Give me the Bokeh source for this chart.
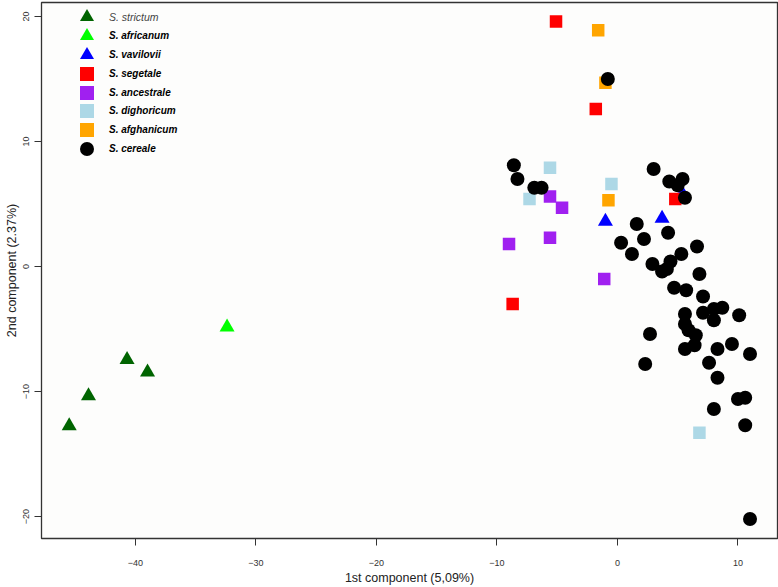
import math
from bokeh.plotting import figure
from bokeh.models import Legend, LegendItem, Range1d, FixedTicker
from bokeh.embed import file_html
from bokeh.resources import INLINE

# ---- data ----
strictum_x = [-45.5, -43.9, -40.7, -39.0]
strictum_y = [-12.75, -10.35, -7.45, -8.45]

africanum_x = [-32.4]
africanum_y = [-4.85]

vavilovii_x = [-1.0, 3.7, 5.4]
vavilovii_y = [3.6, 3.85, 5.8]

segetale_x = [-5.1, -1.8, 4.8, -8.7]
segetale_y = [19.6, 12.6, 5.4, -3.0]

ancestrale_x = [-5.6, -4.6, -9.0, -5.6, -1.1]
ancestrale_y = [5.6, 4.7, 1.8, 2.3, -1.0]

dighoricum_x = [-5.6, -0.5, -7.3, 6.8]
dighoricum_y = [7.9, 6.6, 5.4, -13.3]

afghanicum_x = [-1.6, -1.0, -0.75]
afghanicum_y = [18.9, 14.7, 5.3]

cereale_x = [-0.8, -8.6, -8.3, -6.9, -6.3, 3.0, 4.3, 5.4, 5.0, 5.6,
             1.6, 4.2, 0.3, 2.2, 1.2, 2.9, 4.4, 4.1, 3.7, 5.3,
             6.6, 6.8, 4.7, 5.7, 7.1, 5.6, 7.1, 8.0, 8.7, 10.1,
             8.0, 5.6, 5.9, 6.5, 5.6, 6.4, 9.5, 8.3, 11.0, 2.7,
             2.3, 7.6, 8.3, 10.0, 10.6, 8.0, 10.6, 11.0]
cereale_y = [15.0, 8.1, 7.0, 6.3, 6.3, 7.8, 6.8, 7.0, 6.5, 5.5,
             3.4, 2.7, 1.9, 2.2, 1.0, 0.2, 0.4, -0.2, -0.4, 1.0,
             1.6, -0.6, -1.7, -1.9, -2.4, -3.8, -3.7, -3.4, -3.3, -3.9,
             -4.3, -4.6, -5.1, -5.5, -6.6, -6.3, -6.2, -6.6, -7.0, -5.4,
             -7.8, -7.7, -8.9, -10.6, -10.5, -11.4, -12.7, -20.2]

labels = ["S. strictum", "S. africanum", "S. vavilovii", "S. segetale",
          "S. ancestrale", "S. dighoricum", "S. afghanicum", "S. cereale"]
colors = ["#006400", "#00ff00", "#0000ff", "#ff0000",
          "#a020f0", "#add8e6", "#ffa500", "#000000"]
markers = ["triangle", "triangle", "triangle", "square",
           "square", "square", "square", "circle"]
sizes = [15, 15, 15, 12.5, 12.5, 12.5, 12.5, 14]
xs = [strictum_x, africanum_x, vavilovii_x, segetale_x,
      ancestrale_x, dighoricum_x, afghanicum_x, cereale_x]
ys = [strictum_y, africanum_y, vavilovii_y, segetale_y,
      ancestrale_y, dighoricum_y, afghanicum_y, cereale_y]

x_ticks = [-40, -30, -20, -10, 0, 10]
y_ticks = [-20, -10, 0, 10, 20]

FRAME_H = 536
p = figure(width=778, height=587, output_backend="svg", toolbar_location=None,
           x_range=Range1d(-47.8, 13.28), y_range=Range1d(-21.76, 21.12),
           min_border_left=41, min_border_right=1, min_border_top=2,
           min_border_bottom=49)
p.background_fill_color = "#fdfdfc"
p.border_fill_color = "#ffffff"
p.outline_line_color = "#333333"
p.outline_line_width = 1.3
p.xgrid.visible = False
p.ygrid.visible = False

renderers = []
for lab, col, mk, sz, x, y in zip(labels, colors, markers, sizes, xs, ys):
    r = p.scatter(x, y, marker=mk, size=sz, fill_color=col, line_color=None)
    renderers.append(r)

# one legend entry per Legend so the rows can sit closer than the glyph box
row_pitch = 18.9
first_row = 14.5  # px below the frame top
for i, (lab, r) in enumerate(zip(labels, renderers)):
    center = first_row + i * row_pitch
    bottom = FRAME_H - center - 17.5
    lg = Legend(items=[LegendItem(label=lab, renderers=[r])],
                location=(28, round(bottom)), glyph_width=35, glyph_height=35,
                padding=0, margin=0, label_standoff=5,
                border_line_color=None, background_fill_alpha=0,
                label_text_font="Liberation Sans",
                label_text_font_size="10.5px" if i == 0 else "10px",
                label_text_font_style="italic" if i == 0 else "bold italic",
                label_text_color="#444444" if i == 0 else "#000000")
    p.add_layout(lg)

for ax, ticks in ((p.xaxis[0], x_ticks), (p.yaxis[0], y_ticks)):
    ax.ticker = FixedTicker(ticks=ticks)
    ax.axis_line_color = None
    ax.major_tick_in = 0
    ax.major_tick_out = 7
    ax.major_tick_line_color = "#333333"
    ax.minor_tick_line_color = None
    ax.major_label_text_font = "Liberation Sans"
    ax.major_label_text_font_size = "9px"
    ax.major_label_text_color = "#333333"
    ax.axis_label_text_font = "Liberation Sans"
    ax.axis_label_text_font_size = "12.5px"
    ax.axis_label_text_font_style = "normal"
    ax.axis_label_text_color = "#222222"

p.xaxis[0].axis_label = "1st component (5,09%)"
p.xaxis[0].major_label_standoff = 14
p.xaxis[0].axis_label_standoff = 2
p.yaxis[0].axis_label = "2nd component (2.37%)"
p.yaxis[0].major_label_orientation = "vertical"
p.yaxis[0].major_label_standoff = 6
p.yaxis[0].axis_label_standoff = 1

open("out.html", "w").write(file_html(p, INLINE))
